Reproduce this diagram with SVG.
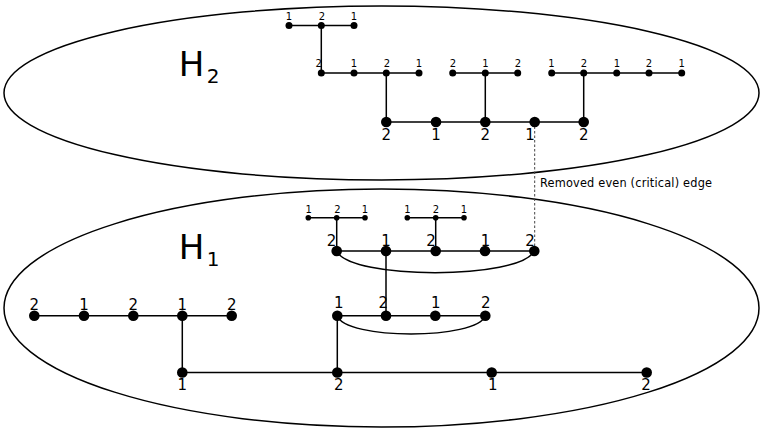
<svg xmlns="http://www.w3.org/2000/svg" width="763" height="429" viewBox="0 0 763 429">
<style>
.region{fill:none;stroke:#000;stroke-width:1.5}
.e{fill:none;stroke:#000;stroke-width:1.5}
.dash{fill:none;stroke:#444;stroke-width:1;stroke-dasharray:2.5,2}
.s2{fill:#000}
.t{font-family:"DejaVu Sans","Liberation Sans",sans-serif;fill:#000;text-anchor:middle}
.ts{font-size:10px}
.tb{font-size:15px}
.th{font-size:34px}
.tsub{font-size:20px}
.note{font-family:"DejaVu Sans Condensed","DejaVu Sans",sans-serif;font-stretch:condensed;font-size:12.6px;fill:#000}
</style>
<rect width="763" height="429" fill="#fff"/>
<g id="region-H2">
<ellipse class="region" cx="381.5" cy="93" rx="377.5" ry="87"/>
<text class="t th" x="191.5" y="76">H</text><text class="t tsub" x="213" y="82.5">2</text>
</g>
<g id="region-H1">
<ellipse class="region" cx="381.5" cy="308" rx="377.5" ry="119"/>
<text class="t th" x="191.5" y="259">H</text><text class="t tsub" x="213" y="266">1</text>
</g>
<g id="connectors">
<path class="e" d="M289,25.5H354M321.3,25.5V73M321.3,73H419M452.7,73H517.7M551.7,73H681.7M386.3,73V122M485.3,73V122M583.7,73V122M386.3,122H583.7"/>
<path class="dash" d="M534.7,122V251"/>
<path class="e" d="M308.3,217.7H365M407.3,217.7H464M336.7,217.7V251M435.7,217.7V251M336.7,251H534.3M386,251V315.7M337.3,315.7H485.3M337.3,315.7V372.5M34.3,315.7H231.7M182.3,315.7V372.5M182.3,372.5H646.7"/>
<path class="e" d="M336.7,251C350,280 520,280 534.3,251"/>
<path class="e" d="M337.3,315.7C345,340 477,340 485.3,315.7"/>
<text class="note" x="540" y="187" textLength="172">Removed even (critical) edge</text>
</g>
<g id="h2-a1"><circle cx="289" cy="25.5" r="3.5"/><text class="t ts" x="289" y="20">1</text></g>
<g id="h2-a2"><circle cx="321.3" cy="25.5" r="3.5"/><text class="t ts" x="322" y="20">2</text></g>
<g id="h2-a3"><circle cx="354" cy="25.5" r="3.5"/><text class="t ts" x="354" y="20">1</text></g>
<g id="h2-b1"><circle cx="321.3" cy="73" r="3.5"/><text class="t ts" x="318.7" y="67">2</text></g>
<g id="h2-b2"><circle cx="354" cy="73" r="3.5"/><text class="t ts" x="354" y="67">1</text></g>
<g id="h2-b3"><circle cx="386.3" cy="73" r="3.5"/><text class="t ts" x="387" y="67">2</text></g>
<g id="h2-b4"><circle cx="419" cy="73" r="3.5"/><text class="t ts" x="419" y="67">1</text></g>
<g id="h2-c1"><circle cx="452.7" cy="73" r="3.5"/><text class="t ts" x="453" y="67">2</text></g>
<g id="h2-c2"><circle cx="485.3" cy="73" r="3.5"/><text class="t ts" x="485.5" y="67">1</text></g>
<g id="h2-c3"><circle cx="517.7" cy="73" r="3.5"/><text class="t ts" x="518" y="67">2</text></g>
<g id="h2-d1"><circle cx="551.7" cy="73" r="3.5"/><text class="t ts" x="551.5" y="67">1</text></g>
<g id="h2-d2"><circle cx="583.7" cy="73" r="3.5"/><text class="t ts" x="584" y="67">2</text></g>
<g id="h2-d3"><circle cx="616.7" cy="73" r="3.5"/><text class="t ts" x="617" y="67">1</text></g>
<g id="h2-d4"><circle cx="649" cy="73" r="3.5"/><text class="t ts" x="649" y="67">2</text></g>
<g id="h2-d5"><circle cx="681.7" cy="73" r="3.5"/><text class="t ts" x="681.7" y="67">1</text></g>
<g id="h2-m1"><circle cx="386.3" cy="122" r="5.3"/><text class="t tb" x="386.3" y="140">2</text></g>
<g id="h2-m2"><circle cx="436" cy="122" r="5.3"/><text class="t tb" x="436" y="140">1</text></g>
<g id="h2-m3"><circle cx="485.3" cy="122" r="5.3"/><text class="t tb" x="485.3" y="140">2</text></g>
<g id="h2-m4"><circle cx="534.7" cy="122" r="5.3"/><text class="t tb" x="530" y="140">1</text></g>
<g id="h2-m5"><circle cx="583.7" cy="122" r="5.3"/><text class="t tb" x="583.7" y="140">2</text></g>
<g id="h1-a1"><circle cx="308.3" cy="217.7" r="2.8"/><text class="t ts" x="308.8" y="213.3">1</text></g>
<g id="h1-a2"><circle cx="336.7" cy="217.7" r="2.8"/><text class="t ts" x="337.5" y="213.3">2</text></g>
<g id="h1-a3"><circle cx="365" cy="217.7" r="2.8"/><text class="t ts" x="365" y="213.3">1</text></g>
<g id="h1-b1"><circle cx="407.3" cy="217.7" r="2.8"/><text class="t ts" x="407.5" y="213.3">1</text></g>
<g id="h1-b2"><circle cx="435.7" cy="217.7" r="2.8"/><text class="t ts" x="436" y="213.3">2</text></g>
<g id="h1-b3"><circle cx="464" cy="217.7" r="2.8"/><text class="t ts" x="464" y="213.3">1</text></g>
<g id="h1-c1"><circle cx="336.7" cy="251" r="5.3"/><text class="t tb" x="331.5" y="245.7">2</text></g>
<g id="h1-c2"><circle cx="386" cy="251" r="5.3"/><text class="t tb" x="386" y="245.7">1</text></g>
<g id="h1-c3"><circle cx="435.7" cy="251" r="5.3"/><text class="t tb" x="431" y="245.7">2</text></g>
<g id="h1-c4"><circle cx="485" cy="251" r="5.3"/><text class="t tb" x="485.5" y="245.7">1</text></g>
<g id="h1-c5"><circle cx="534.3" cy="251" r="5.3"/><text class="t tb" x="530" y="245.7">2</text></g>
<g id="h1-d1"><circle cx="337.3" cy="315.7" r="5.3"/><text class="t tb" x="338.8" y="307.7">1</text></g>
<g id="h1-d2"><circle cx="386" cy="315.7" r="5.3"/><text class="t tb" x="383.3" y="307.7">2</text></g>
<g id="h1-d3"><circle cx="435.3" cy="315.7" r="5.3"/><text class="t tb" x="435.7" y="307.7">1</text></g>
<g id="h1-d4"><circle cx="485.3" cy="315.7" r="5.3"/><text class="t tb" x="485.8" y="307.7">2</text></g>
<g id="h1-e1"><circle cx="34.3" cy="315.7" r="5.3"/><text class="t tb" x="34.3" y="309.5">2</text></g>
<g id="h1-e2"><circle cx="84" cy="315.7" r="5.3"/><text class="t tb" x="84" y="309.5">1</text></g>
<g id="h1-e3"><circle cx="133.3" cy="315.7" r="5.3"/><text class="t tb" x="133.3" y="309.5">2</text></g>
<g id="h1-e4"><circle cx="182.3" cy="315.7" r="5.3"/><text class="t tb" x="182.3" y="309.5">1</text></g>
<g id="h1-e5"><circle cx="231.7" cy="315.7" r="5.3"/><text class="t tb" x="231.7" y="309.5">2</text></g>
<g id="h1-f1"><circle cx="182.3" cy="372.5" r="5.3"/><text class="t tb" x="182.3" y="390">1</text></g>
<g id="h1-f2"><circle cx="337.3" cy="372.5" r="5.3"/><text class="t tb" x="338.7" y="390">2</text></g>
<g id="h1-f3"><circle cx="491.7" cy="372.5" r="5.3"/><text class="t tb" x="492.8" y="390">1</text></g>
<g id="h1-f4"><circle cx="646.7" cy="372.5" r="5.3"/><text class="t tb" x="646" y="390">2</text></g>
</svg>
